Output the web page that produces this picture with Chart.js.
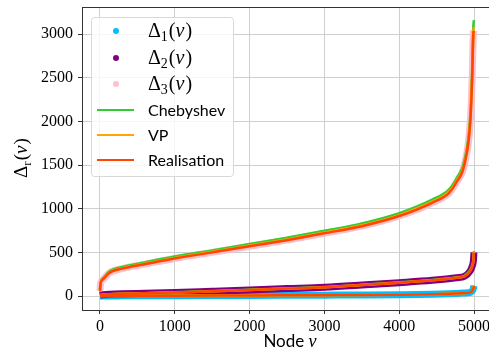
<!DOCTYPE html>
<html>
<head>
<meta charset="utf-8">
<script src="https://cdn.jsdelivr.net/npm/chart.js@4"></script>
<style>
  html, body { margin: 0; padding: 0; background: #fff; }
  #wrap { width: 489px; height: 353px; }
</style>
</head>
<body>
<div id="wrap"><canvas id="chart" width="489" height="353"></canvas></div>
<script>
// Wartosci (wezly posortowane)
const nodes = [0, 10, 40, 125, 300, 600, 1000, 1500, 2000, 2500, 3000, 3500, 4000, 4440, 4660, 4770, 4870, 4950, 4975, 4991, 4999];

const delta1 = [0, 0, 1, 1, 2, 3, 4, 5, 6, 8, 10, 12, 15, 20, 25, 30, 34, 42, 58, 85, 118];
const delta2 = [10, 12, 15, 20, 26, 32, 40, 55, 70, 85, 100, 125, 153, 180, 198, 210, 225, 290, 340, 400, 500];
const delta3 = [60, 150, 190, 265, 315, 365, 430, 500, 570, 640, 718, 800, 916, 1068, 1176, 1309, 1500, 2000, 2500, 3000, 3040];

const cheb1 = [1, 1, 2, 2, 3, 4, 5, 6, 7, 9, 11, 13, 16, 21, 26, 31, 36, 44, 60, 88, 120];
const cheb2 = [11, 13, 16, 21, 27, 33, 42, 57, 72, 87, 103, 128, 157, 184, 203, 216, 232, 298, 350, 412, 515];
const cheb3 = [65, 160, 202, 280, 332, 385, 452, 523, 595, 667, 747, 832, 950, 1105, 1215, 1352, 1548, 2060, 2575, 3090, 3160];

const vp1 = [0, 0, 1, 1, 2, 3, 4, 5, 6, 8, 10, 12, 15, 20, 25, 30, 34, 42, 58, 85, 115];
const vp2 = [10, 12, 15, 20, 26, 32, 40, 55, 70, 85, 100, 125, 153, 181, 199, 211, 226, 292, 342, 403, 505];
const vp3 = [62, 153, 194, 270, 320, 371, 437, 507, 578, 649, 727, 810, 927, 1080, 1189, 1323, 1515, 2018, 2522, 3030, 3075];

const real1 = [0, 0, 1, 1, 2, 3, 4, 5, 6, 8, 10, 12, 15, 20, 25, 30, 34, 42, 58, 85, 112];
const real2 = [10, 12, 15, 20, 26, 32, 40, 55, 70, 85, 100, 125, 153, 180, 198, 210, 225, 290, 340, 400, 498];
const real3 = [60, 150, 190, 265, 315, 365, 430, 500, 570, 640, 718, 800, 916, 1068, 1176, 1309, 1500, 2000, 2500, 3000, 3035];

const xTicks = [0, 1000, 2000, 3000, 4000, 5000];
const yTicks = [0, 500, 1000, 1500, 2000, 2500, 3000];

const legendItems = [
    { kind: 'dot', sub: '1', color: '#00bfff' },
    { kind: 'dot', sub: '2', color: '#800080' },
    { kind: 'dot', sub: '3', color: '#ffc0cb' },
    { kind: 'line', text: 'Chebyshev', color: '#32cd32' },
    { kind: 'line', text: 'VP', color: '#ffa500' },
    { kind: 'line', text: 'Realisation', color: '#ff4500' }
];

const SERIF = '"Liberation Serif", "DejaVu Serif", serif';
const SANS = 'Lato, "DejaVu Sans", sans-serif';

function pts(arr) {
    return nodes.map((n, i) => ({ x: n, y: arr[i] }));
}

function band(arr, color, order) {
    return { data: pts(arr), borderColor: color, backgroundColor: color, borderWidth: 7,
        pointRadius: 0, showLine: true, cubicInterpolationMode: 'monotone', order: order };
}

function line(arr, color, order) {
    return { data: pts(arr), borderColor: color, backgroundColor: color, borderWidth: 2.5,
        pointRadius: 0, showLine: true, cubicInterpolationMode: 'monotone', order: order };
}

// Rysowanie tekstu Delta_sub(v)
function drawDelta(ctx, x, y, sub, size) {
    ctx.textBaseline = 'alphabetic';
    ctx.textAlign = 'left';
    ctx.font = size + 'px ' + SERIF;
    ctx.fillText('Δ', x, y);
    x += ctx.measureText('Δ').width;
    ctx.font = (size * 0.7) + 'px ' + SERIF;
    ctx.fillText(sub, x, y + size * 0.2);
    x += ctx.measureText(sub).width + 1;
    ctx.font = size + 'px ' + SERIF;
    ctx.fillText('(', x, y);
    x += ctx.measureText('(').width;
    ctx.font = 'italic ' + size + 'px ' + SERIF;
    ctx.fillText('v', x, y);
    x += ctx.measureText('v').width + 1;
    ctx.font = size + 'px ' + SERIF;
    ctx.fillText(')', x, y);
}

const decorPlugin = {
    id: 'decor',
    afterDraw(chart) {
        const ctx = chart.ctx;
        const area = chart.chartArea;
        ctx.save();

        // gorna krawedz
        ctx.strokeStyle = '#333';
        ctx.lineWidth = 1;
        ctx.beginPath();
        ctx.moveTo(area.left, area.top + 0.5);
        ctx.lineTo(area.right, area.top + 0.5);
        ctx.stroke();

        // legenda
        const bx = 91, by = 17, bw = 142, bh = 159;
        ctx.fillStyle = 'rgba(255,255,255,0.8)';
        ctx.strokeStyle = '#d8d8d8';
        ctx.beginPath();
        ctx.roundRect(bx + 0.5, by + 0.5, bw, bh, 3);
        ctx.fill();
        ctx.stroke();

        const rowY = [31, 58, 84, 110, 135, 160];
        legendItems.forEach((it, i) => {
            const y = rowY[i];
            if (it.kind === 'dot') {
                ctx.fillStyle = it.color;
                ctx.beginPath();
                ctx.arc(116, y, 3, 0, Math.PI * 2);
                ctx.fill();
                ctx.fillStyle = '#000';
                drawDelta(ctx, 148, y + 6, it.sub, 20);
            } else {
                ctx.strokeStyle = it.color;
                ctx.lineWidth = 2;
                ctx.beginPath();
                ctx.moveTo(97, y);
                ctx.lineTo(134, y);
                ctx.stroke();
                ctx.fillStyle = '#000';
                ctx.font = '16px ' + SANS;
                ctx.textAlign = 'left';
                ctx.textBaseline = 'middle';
                ctx.fillText(it.text, 148, y + 1);
            }
        });

        // opis osi X
        ctx.fillStyle = '#000';
        ctx.font = '17px ' + SANS;
        ctx.textBaseline = 'alphabetic';
        ctx.textAlign = 'left';
        const w1 = ctx.measureText('Node ').width;
        ctx.font = 'italic 18px ' + SERIF;
        const w2 = ctx.measureText('v').width;
        let sx = 290 - (w1 + w2) / 2;
        ctx.font = '17px ' + SANS;
        ctx.fillText('Node ', sx, 347);
        ctx.font = 'italic 18px ' + SERIF;
        ctx.fillText('v', sx + w1, 347);

        // opis osi Y
        ctx.translate(27, 178);
        ctx.rotate(-Math.PI / 2);
        drawDelta(ctx, 0, 0, 'r', 19);
        ctx.restore();
    }
};

const ctx = document.getElementById('chart').getContext('2d');
new Chart(ctx, {
    type: 'scatter',
    data: {
        datasets: [
            band(delta1, '#00bfff', 30),
            band(delta2, '#800080', 20),
            band(delta3, '#ffc0cb', 10),
            line(cheb1, '#32cd32', 6), line(cheb2, '#32cd32', 6), line(cheb3, '#32cd32', 6),
            line(vp1, '#ffa500', 5), line(vp2, '#ffa500', 5), line(vp3, '#ffa500', 5),
            line(real1, '#ff4500', 4), line(real2, '#ff4500', 4), line(real3, '#ff4500', 4)
        ]
    },
    options: {
        responsive: false,
        animation: false,
        layout: { padding: { top: 7, right: 0, left: 0, bottom: 0 } },
        plugins: { legend: { display: false }, tooltip: { enabled: false } },
        scales: {
            x: {
                type: 'linear',
                min: -240,
                max: 5200,
                afterBuildTicks: s => { s.ticks = xTicks.map(v => ({ value: v })); },
                afterFit: s => { s.height = 43; s.paddingLeft = 0; s.paddingRight = 0; },
                grid: { color: '#cfcfcf', lineWidth: 1, tickLength: 4, tickColor: '#333' },
                border: { color: '#333', width: 1 },
                ticks: { color: '#000', font: { family: SERIF, size: 16 }, padding: 3,
                    maxRotation: 0, callback: v => String(v) }
            },
            y: {
                type: 'linear',
                min: -160,
                max: 3310,
                afterBuildTicks: s => { s.ticks = yTicks.map(v => ({ value: v })); },
                afterFit: s => { s.width = 82; s.paddingTop = 0; s.paddingBottom = 0; },
                grid: { color: '#cfcfcf', lineWidth: 1, tickLength: 4, tickColor: '#333' },
                border: { color: '#333', width: 1 },
                ticks: { color: '#000', font: { family: SERIF, size: 16 }, padding: 5,
                    callback: v => String(v) }
            }
        }
    },
    plugins: [decorPlugin]
});
</script>
</body>
</html>
